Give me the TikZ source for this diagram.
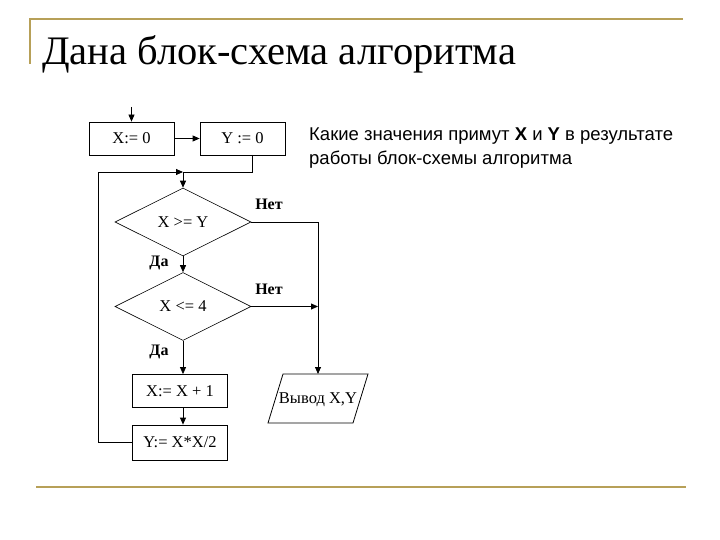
\documentclass[tikz,border=0pt]{standalone}
\usepackage{fontspec}
\setmainfont{Liberation Serif}
\newfontfamily\arialf{Liberation Sans}
\usetikzlibrary{arrows.meta,shapes.geometric,calc}
\definecolor{gold}{RGB}{183,160,88}
\begin{document}
\begin{tikzpicture}[x=1pt,y=-1pt,
  line/.style={line width=0.8pt},
  arr/.style={line width=0.8pt,-{Triangle[length=7pt,width=6pt]}},
  proc/.style={draw,line width=0.8pt,inner sep=1pt,font=\fontsize{16.5}{18}\selectfont},
  dec/.style={draw,diamond,line width=0.6pt,inner sep=0pt,aspect=2,minimum width=136pt,minimum height=68pt,font=\fontsize{16.5}{18}\selectfont},
  lbl/.style={font=\bfseries\fontsize{16}{18}\selectfont,inner sep=0pt},
  qtext/.style={anchor=base west,inner sep=0pt,font=\arialf\fontsize{18.5}{24}\selectfont},
  goldline/.style={draw=gold,line width=2.6pt}]
\useasboundingbox (0,0) rectangle (720,540);
% slide frame
\draw[goldline] (30,64) -- (30,19) -- (683,19);
\draw[goldline] (36,487) -- (686,487);
\node[anchor=base west,inner sep=0pt,font=\fontsize{40.5}{44}\selectfont] (title) at (42,65) {Дана блок-схема алгоритма};
% question
\node[qtext] (q1) at (309,141) {Какие значения примут \textbf{X} и \textbf{Y} в результате};
\node[qtext] (q2) at (309,165) {работы блок-схемы алгоритма};
% flowchart
\node[proc,minimum width=85pt,minimum height=33pt] (b1) at (131.5,138.5) {X:= 0};
\node[proc,minimum width=85pt,minimum height=33pt] (b2) at (242.5,138.5) {Y := 0};
\node[dec] (d1) at (183,222) {X >= Y};
\node[dec] (d2) at (183,306.5) {X <= 4};
\node[proc,minimum width=95pt,minimum height=33pt] (b3) at (180,391) {X:= X + 1};
\node[proc,minimum width=95pt,minimum height=35pt] (b4) at (180,442.5) {Y:= X*X/2};
\draw[line] (283,374) -- (368,374) -- (353,423) -- (268,423) -- cycle;
\node[inner sep=0pt,font=\fontsize{16.5}{18}\selectfont] (out) at (318,400) {Вывод X,Y};
\coordinate (outtop) at (318,374);
\coordinate (entry) at (131.5,107);
\coordinate (j1) at (183,172);
\coordinate (b2out) at (252,155);
% connectors
\draw[arr] (entry) -- (b1.north);
\draw[arr] (b1) -- (b2);
\draw[line] (b2out) |- (j1);
\draw[arr] (j1) -- (d1.north);
\draw[arr] (b4.west) -- ++(-34,0) |- (j1);
\draw[arr] (d1.south) -- (d2.north);
\draw[arr] (d1.east) -| (outtop);
\draw[arr] (d2.east) -- (d2.east -| outtop);
\draw[arr] (d2.south) -- (d2.south |- b3.north);
\draw[arr] (b3.south -| d2.south) -- (b4.north -| d2.south);
% labels
\node[lbl] (n1) at (269,204) {Нет};
\node[lbl] (n2) at (269,289) {Нет};
\node[lbl] (y1) at (159,263) {Да};
\node[lbl] (y2) at (159,352) {Да};
\end{tikzpicture}
\end{document}
